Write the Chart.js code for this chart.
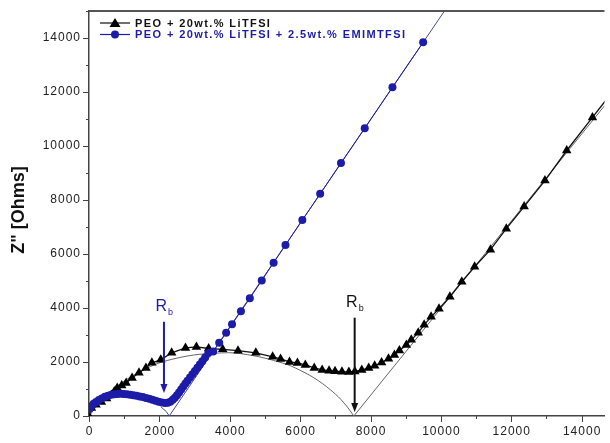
<!DOCTYPE html>
<html>
<head>
<meta charset="utf-8">
<script src="https://cdn.jsdelivr.net/npm/chart.js"></script>
<style>
  html, body { margin: 0; padding: 0; background: #fff; }
  canvas { display: block; }
</style>
</head>
<body>
<canvas id="nyquist" width="610" height="443"></canvas>
<script>
// legend labels
const seriesNames = ['PEO + 20wt.% LiTFSI', 'PEO + 20wt.% LiTFSI + 2.5wt.% EMIMTFSI'];

// PEO + LiTFSI (Z', Z'')
const peoX = [0, 70, 200, 352, 500, 633, 720, 802, 930, 1055, 1224, 1421, 1618, 1787, 2040, 2349, 2743, 3053, 3400, 3800,
  4235, 4741, 5219, 5444, 5698, 5923, 6148, 6401, 6626, 6823, 6992, 7189, 7386, 7555, 7752, 7949, 8118, 8315, 8512,
  8680, 8821, 9018, 9159, 9356, 9525, 9722, 9947, 10256, 10594, 10959, 11410, 11860, 12366, 12957, 13576, 14308, 14900];
const peoY = [0, 300, 420, 520, 650, 780, 910, 1040, 1130, 1220, 1410, 1600, 1780, 1970, 2080, 2340, 2520, 2560, 2500, 2470,
  2420, 2340, 2190, 2115, 2004, 1967, 1892, 1781, 1707, 1680, 1660, 1640, 1633, 1650, 1700, 1780, 1860, 1980, 2120,
  2260, 2430, 2630, 2820, 3080, 3377, 3673, 3970, 4416, 4972, 5529, 6160, 6939, 7755, 8720, 9833, 11057, 12050];

// PEO + LiTFSI + EMIMTFSI
const emimX = [0, 60, 130, 200, 280, 360, 450, 540, 630, 720, 810, 900, 990, 1080, 1170, 1260, 1350, 1440, 1530, 1620,
  1710, 1800, 1890, 1980, 2070, 2160, 2240, 2310, 2380, 2440, 2500, 2560, 2620, 2680, 2740, 2800, 2870, 2940, 3010,
  3080, 3150, 3220, 3300, 3390, 3530, 3700, 3897, 4065, 4318, 4571, 4909, 5246, 5584, 6063, 6570, 7161, 7836,
  8624, 9496];
const emimY = [250, 360, 450, 520, 590, 650, 710, 750, 785, 805, 815, 820, 815, 805, 790, 770, 750, 725, 700, 670,
  635, 600, 565, 530, 500, 480, 490, 530, 600, 680, 770, 870, 980, 1090, 1200, 1310, 1430, 1550, 1670,
  1790, 1910, 2030, 2170, 2330, 2390, 2710, 3080, 3400, 3880, 4360, 5020, 5680, 6330, 7260, 8230, 9370, 10660,
  12180, 13840];

// fitted lines (thin)
const fitArcX = [0, 500, 1500, 2500, 3763, 4500, 5500, 6000, 6500, 7000, 7300, 7527];
const fitArcY = [0, 781, 1676, 2144, 2338, 2273, 1962, 1692, 1323, 813, 401, 0];
const fitLineX = [7527, 14650];
const fitLineY = [0, 11490];
const fitBlueX = [2050, 2200, 2280, 10300];
const fitBlueY = [330, 160, 0, 15380];

const xTicks = [0, 2000, 4000, 6000, 8000, 10000, 12000, 14000];
const yTicks = [0, 2000, 4000, 6000, 8000, 10000, 12000, 14000];

const rbMarks = [
  { x: 2130, top: 3490, tip: 850, color: '#1c1ca8' },
  { x: 7550, top: 3640, tip: 150, color: '#111' }
];

const BLUE = '#1c1ca8';
const FONT = '"Liberation Sans", Arial, sans-serif';
const pts = (xs, ys) => xs.map((x, i) => ({ x: x, y: ys[i] }));

const extras = {
  id: 'extras',
  afterDraw(chart) {
    const ctx = chart.ctx, a = chart.chartArea;
    const sx = chart.scales.x, sy = chart.scales.y;
    ctx.save();
    // top frame
    ctx.strokeStyle = '#555';
    ctx.lineWidth = 2;
    ctx.beginPath(); ctx.moveTo(a.left, a.top); ctx.lineTo(a.right, a.top); ctx.stroke();
    // ticks, major and minor
    ctx.strokeStyle = '#444';
    ctx.lineWidth = 1;
    for (let v = 0; v <= 14650; v += 1000) {
      const px = Math.round(sx.getPixelForValue(v)) + 0.5;
      const len = v % 2000 === 0 ? 6 : 3;
      ctx.beginPath(); ctx.moveTo(px, a.bottom); ctx.lineTo(px, a.bottom + len); ctx.stroke();
    }
    for (let v = 0; v <= 15000; v += 1000) {
      const py = Math.round(sy.getPixelForValue(v)) + 0.5;
      const len = v % 2000 === 0 ? 6 : 3;
      ctx.beginPath(); ctx.moveTo(a.left, py); ctx.lineTo(a.left - len, py); ctx.stroke();
    }
    // tick labels, a bit spread out like the original
    ctx.fillStyle = '#222';
    ctx.font = '12px ' + FONT;
    ctx.letterSpacing = '1px';
    ctx.textBaseline = 'middle';
    ctx.textAlign = 'center';
    xTicks.forEach(v => ctx.fillText(String(v), sx.getPixelForValue(v) + 0.5, a.bottom + 16));
    ctx.textAlign = 'right';
    yTicks.forEach(v => ctx.fillText(String(v), a.left - 8, sy.getPixelForValue(v)));
    ctx.letterSpacing = '0px';
    // y title
    ctx.fillStyle = '#111';
    ctx.font = 'bold 18px ' + FONT;
    ctx.textAlign = 'center'; ctx.textBaseline = 'middle';
    ctx.translate(19, 210); ctx.rotate(-Math.PI / 2);
    ctx.fillText('Z" [Ohms]', 0, 0);
    ctx.setTransform(1, 0, 0, 1, 0, 0);
    // legend
    const ds = chart.data.datasets;
    ctx.font = 'bold 11px ' + FONT;
    ctx.letterSpacing = '1.4px';
    ctx.textAlign = 'left';
    [0, 1].forEach(i => {
      const d = ds[i === 0 ? 1 : 0];
      const y = 23 + i * 11.5;
      ctx.strokeStyle = d.borderColor; ctx.lineWidth = 1.2;
      ctx.beginPath(); ctx.moveTo(100, y); ctx.lineTo(130, y); ctx.stroke();
      ctx.fillStyle = d.pointBackgroundColor;
      ctx.beginPath();
      if (d.pointStyle === 'triangle') {
        ctx.moveTo(115, y - 5); ctx.lineTo(120.5, y + 4); ctx.lineTo(109.5, y + 4); ctx.closePath();
      } else {
        ctx.arc(115, y, 4, 0, Math.PI * 2);
      }
      ctx.fill();
      ctx.fillStyle = i === 0 ? '#111' : BLUE;
      ctx.fillText(seriesNames[i], 135, y + 0.5);
    });
    ctx.letterSpacing = '0px';
    // R_b arrows
    rbMarks.forEach(m => {
      const px = sx.getPixelForValue(m.x);
      const pTop = sy.getPixelForValue(m.top), pTip = sy.getPixelForValue(m.tip);
      ctx.strokeStyle = m.color; ctx.fillStyle = m.color; ctx.lineWidth = 2;
      ctx.beginPath(); ctx.moveTo(px, pTop); ctx.lineTo(px, pTip - 8); ctx.stroke();
      ctx.beginPath(); ctx.moveTo(px - 3.5, pTip - 9); ctx.lineTo(px + 3.5, pTip - 9); ctx.lineTo(px, pTip); ctx.closePath(); ctx.fill();
      ctx.font = '16px ' + FONT;
      ctx.textAlign = 'right'; ctx.textBaseline = 'alphabetic';
      ctx.fillText('R', px + 3, pTop - 11);
      ctx.font = '9px ' + FONT;
      ctx.textAlign = 'left';
      ctx.fillText('b', px + 4, pTop - 7);
    });
    ctx.restore();
  }
};

new Chart(document.getElementById('nyquist'), {
  type: 'scatter',
  data: {
    datasets: [
      { label: seriesNames[1], data: pts(emimX, emimY), showLine: true, borderColor: BLUE, borderWidth: 1,
        pointStyle: 'circle', pointRadius: 4, pointBackgroundColor: BLUE, pointBorderWidth: 0 },
      { label: seriesNames[0], data: pts(peoX, peoY), showLine: true, borderColor: '#111', borderWidth: 1.3,
        pointStyle: 'triangle', pointRadius: 5.5, pointBackgroundColor: '#000', pointBorderWidth: 0 },
      { label: 'fit', data: pts(fitBlueX, fitBlueY), showLine: true, borderColor: '#4a4a8a', borderWidth: 1, pointRadius: 0 },
      { label: 'fit', data: pts(fitArcX, fitArcY), showLine: true, tension: 0.4, borderColor: '#666', borderWidth: 1, pointRadius: 0 },
      { label: 'fit', data: pts(fitLineX, fitLineY), showLine: true, borderColor: '#666', borderWidth: 1, pointRadius: 0 }
    ]
  },
  options: {
    responsive: false,
    animation: false,
    devicePixelRatio: 1,
    layout: { padding: { top: 11, right: 0, left: 0, bottom: 0 } },
    plugins: { legend: { display: false }, tooltip: { enabled: false } },
    scales: {
      x: {
        type: 'linear', min: 0, max: 14650,
        afterFit: s => { s.height = 27; },
        afterBuildTicks: s => { s.ticks = xTicks.map(v => ({ value: v })); },
        grid: { display: true, drawOnChartArea: false, drawTicks: false },
        border: { display: true, color: '#444', width: 1.5 },
        ticks: { display: false }
      },
      y: {
        type: 'linear', min: 0, max: 15000,
        afterFit: s => { s.width = 89; },
        afterBuildTicks: s => { s.ticks = yTicks.map(v => ({ value: v })); },
        grid: { display: true, drawOnChartArea: false, drawTicks: false },
        border: { display: true, color: '#444', width: 1.5 },
        ticks: { display: false }
      }
    }
  },
  plugins: [extras]
});
</script>
</body>
</html>
